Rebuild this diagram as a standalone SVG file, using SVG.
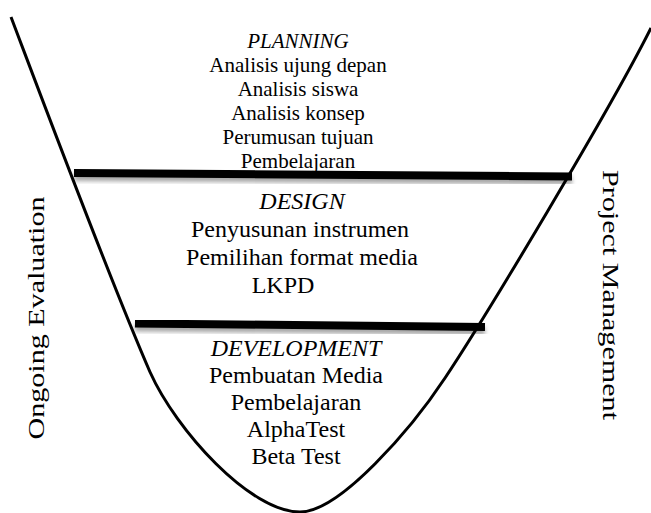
<svg xmlns="http://www.w3.org/2000/svg" width="651" height="513" viewBox="0 0 651 513">
  <style>
    text { font-family: "Liberation Serif", "Times New Roman", serif; fill: #000; }
    .c { text-anchor: middle; }
    .title { font-style: italic; }
    .p { font-size: 21px; }
    .d { font-size: 24px; }
    .side { font-size: 24px; text-anchor: middle; }
    .bar { stroke: #000; stroke-width: 8; fill: none; filter: url(#shade); }
    .funnel { stroke: #000; stroke-width: 3; fill: none; }
  </style>
  <defs>
    <filter id="shade" x="-5%" y="-100%" width="110%" height="400%">
      <feDropShadow dx="0" dy="4" stdDeviation="2" flood-color="#000" flood-opacity="0.35"/>
    </filter>
  </defs>
  <rect width="651" height="513" fill="#fff"/>

  <!-- funnel outline -->
  <g id="funnel">
    <path class="funnel" d="M11,17 C50,120 110,280 150,372 C176,430 250,512 300,512 C340,512 412,428 445,378 C485,318 610,110 651,28"/>
  </g>

  <!-- stage dividers -->
  <g id="connectors">
    <line class="bar" x1="12" y1="17" x2="651" y2="17"/>
    <line class="bar" x1="74" y1="173" x2="572" y2="176.5"/>
    <line class="bar" x1="135" y1="323.5" x2="485" y2="327"/>
  </g>

  <g id="planning" class="c p">
    <text x="298" y="48" class="title">PLANNING</text>
    <text x="298" y="72">Analisis ujung depan</text>
    <text x="298" y="96">Analisis siswa</text>
    <text x="298" y="120">Analisis konsep</text>
    <text x="298" y="144">Perumusan tujuan</text>
    <text x="298" y="168">Pembelajaran</text>
  </g>

  <g id="design" class="c d">
    <text x="302" y="209" class="title">DESIGN</text>
    <text x="300" y="237">Penyusunan instrumen</text>
    <text x="302" y="265">Pemilihan format media</text>
    <text x="283" y="293">LKPD</text>
  </g>

  <g id="development" class="c d">
    <text x="296" y="356" class="title">DEVELOPMENT</text>
    <text x="296" y="383">Pembuatan Media</text>
    <text x="296" y="410">Pembelajaran</text>
    <text x="296" y="437">AlphaTest</text>
    <text x="296" y="464">Beta Test</text>
  </g>

  <g id="ongoing-evaluation">
    <text class="side" transform="translate(44,318) rotate(-90)" textLength="243" lengthAdjust="spacingAndGlyphs">Ongoing Evaluation</text>
  </g>
  <g id="project-management">
    <text class="side" transform="translate(603,295) rotate(90)" textLength="250" lengthAdjust="spacingAndGlyphs">Project Management</text>
  </g>
</svg>
